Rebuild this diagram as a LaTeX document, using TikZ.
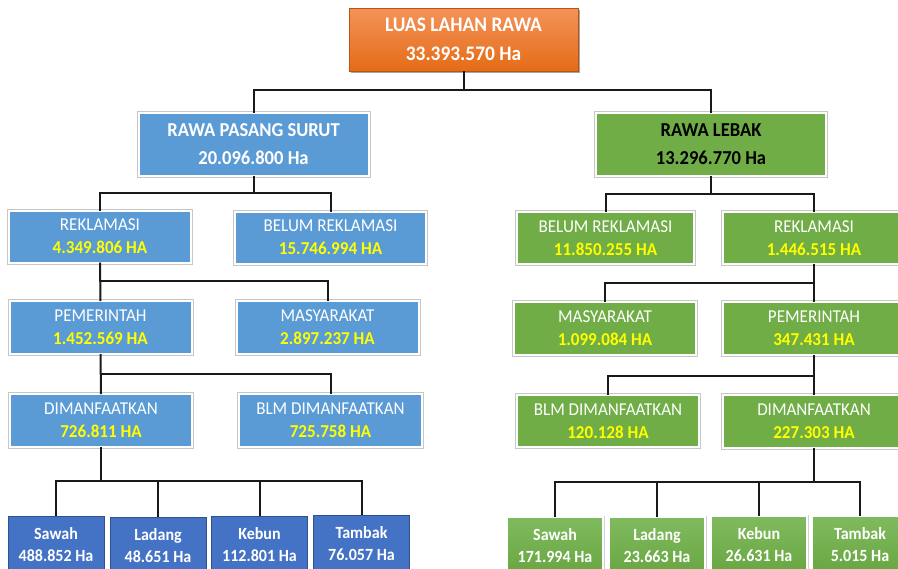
\documentclass[tikz,border=0pt]{standalone}
\usepackage{fontspec}
\setmainfont{Carlito}[FakeStretch=0.94]
\usetikzlibrary{shadows}
\newlength\pxu
\setlength\pxu{0.75pt}
\definecolor{orangetop}{HTML}{F4935A}
\definecolor{orangebot}{HTML}{E46C16}
\definecolor{bluefill}{HTML}{5B9BD5}
\definecolor{greenfill}{HTML}{70AD47}
\definecolor{greentop}{HTML}{80BA5E}
\definecolor{greenbot}{HTML}{68A641}
\definecolor{darkblue}{HTML}{4472C4}
\definecolor{darkblueline}{HTML}{2F528F}
\definecolor{amount}{HTML}{FFFF00}
\tikzset{
  x=\pxu, y=-\pxu,
  box/.style={rectangle, inner sep=0pt, outer sep=0pt, align=center},
  framed/.style={box, preaction={draw=black!22, line width=4\pxu}, draw=white, line width=2\pxu},
  headbox/.style={box, top color=orangetop, bottom color=orangebot, draw=orangebot!80!black, line width=0.6\pxu,
    drop shadow={shadow xshift=2\pxu, shadow yshift=-2\pxu, opacity=0.35, fill=black},
    minimum width=229\pxu, minimum height=63\pxu, text=white,
    font=\fontsize{15.5}{21.5}\selectfont\bfseries},
  mainbox/.style={framed, minimum width=230\pxu, minimum height=63\pxu,
    font=\fontsize{14.8}{21}\selectfont\bfseries},
  catbox/.style={framed, minimum width=182\pxu, minimum height=52\pxu,
    font=\fontsize{13.6}{17.25}\selectfont, text=white},
  leafblue/.style={box, fill=darkblue, draw=darkblueline, line width=1\pxu,
    minimum width=96\pxu, minimum height=58\pxu, text=white,
    font=\fontsize{12.8}{16.5}\selectfont\bfseries},
  leafgreen/.style={box, top color=greentop, bottom color=greenbot, preaction={draw=black!18, line width=3\pxu},
    draw=white, line width=1.5\pxu,
    minimum width=96\pxu, minimum height=58\pxu, text=white,
    font=\fontsize{12.8}{16.5}\selectfont\bfseries},
  link/.style={draw=black!90, line width=2\pxu},
}
\newcommand\amt[1]{\textcolor{amount}{\bfseries #1}}
\newcommand\cat[2]{\raisebox{-1.5\pxu}{#1}\\\raisebox{-1.5\pxu}{\amt{#2}}}
\begin{document}
\begin{tikzpicture}
\useasboundingbox (0,0) rectangle (898,568);
\clip (0,0) rectangle (898,568);

% root
\node[headbox] (root) at (463.5,39.5) {LUAS LAHAN RAWA\\33.393.570 Ha};

% second level
\node[mainbox, fill=bluefill, text=white] (rps) at (253.5,144) {RAWA PASANG SURUT\\20.096.800 Ha};
\node[mainbox, fill=greenfill, text=black] (rl) at (711,144) {RAWA LEBAK\\13.296.770 Ha};

% pasang surut branch
\node[catbox, fill=bluefill, minimum width=182\pxu] (lrek) at (100,236.5) {\cat{REKLAMASI}{4.349.806 HA}};
\node[catbox, fill=bluefill, minimum width=191\pxu] (lbrek) at (330.5,237.5) {\cat{BELUM REKLAMASI}{15.746.994 HA}};
\node[catbox, fill=bluefill, minimum height=53\pxu] (lpem) at (100.5,327.5) {\cat{PEMERINTAH}{1.452.569 HA}};
\node[catbox, fill=bluefill, minimum height=53\pxu] (lmas) at (327.5,327.5) {\cat{MASYARAKAT}{2.897.237 HA}};
\node[catbox, fill=bluefill, minimum height=53\pxu] (ldim) at (101,420.5) {\cat{DIMANFAATKAN}{726.811 HA}};
\node[catbox, fill=bluefill, minimum height=53\pxu, minimum width=183\pxu] (lblm) at (330.5,420.5) {\cat{BLM DIMANFAATKAN}{725.758 HA}};

% lebak branch
\node[catbox, fill=greenfill, minimum width=177\pxu] (rbrek) at (605.5,238) {\cat{BELUM REKLAMASI}{11.850.255 HA}};
\node[catbox, fill=greenfill] (rrek) at (814,238) {\cat{REKLAMASI}{1.446.515 HA}};
\node[catbox, fill=greenfill, minimum height=53\pxu] (rmas) at (605,328.5) {\cat{MASYARAKAT}{1.099.084 HA}};
\node[catbox, fill=greenfill, minimum height=53\pxu] (rpem) at (814,328.5) {\cat{PEMERINTAH}{347.431 HA}};
\node[catbox, fill=greenfill] (rblm) at (608,421) {\cat{BLM DIMANFAATKAN}{120.128 HA}};
\node[catbox, fill=greenfill, minimum height=53\pxu] (rdim) at (814,421.5) {\cat{DIMANFAATKAN}{227.303 HA}};

% land use leaves
\node[leafblue] (lsaw) at (56,545) {Sawah\\488.852 Ha};
\node[leafblue] (llad) at (158,546) {Ladang\\48.651 Ha};
\node[leafblue] (lkeb) at (259.5,545) {Kebun\\112.801 Ha};
\node[leafblue] (ltam) at (361.5,544) {Tambak\\76.057 Ha};
\node[leafgreen] (rsaw) at (555,546) {Sawah\\171.994 Ha};
\node[leafgreen] (rlad) at (657,546) {Ladang\\23.663 Ha};
\node[leafgreen] (rkeb) at (759,545) {Kebun\\26.631 Ha};
\node[leafgreen] (rtam) at (860,545) {Tambak\\5.015 Ha};

% junction points
\coordinate (j0) at (463.5,90);
\coordinate (j1) at (253.5,193);
\coordinate (j2) at (100,281);
\coordinate (j3) at (100.5,374);
\coordinate (j4) at (101,481);
\coordinate (k1) at (711,194);
\coordinate (k2) at (814,283);
\coordinate (k3) at (814,376);
\coordinate (k4) at (814,482);

% connectors
\draw[link] (root.south) -- (j0);
\draw[link] (rps.north) |- (j0) -| (rl.north);

\draw[link] (rps.south) -- (j1);
\draw[link] (lrek.north) |- (j1) -| (lbrek.north);
\draw[link] (lrek.south) -- (lpem.north);
\draw[link] (j2) -| (lmas.north);
\draw[link] (lpem.south) -- (ldim.north);
\draw[link] (j3) -| (lblm.north);
\draw[link] (ldim.south) -- (j4);
\draw[link] (lsaw.north) |- (j4) -| (ltam.north);
\draw[link] (llad.north) -- (llad.north |- j4);
\draw[link] (lkeb.north) -- (lkeb.north |- j4);

\draw[link] (rl.south) -- (k1);
\draw[link] (rbrek.north) |- (k1) -| (rrek.north);
\draw[link] (rrek.south) -- (rpem.north);
\draw[link] (k2) -| (rmas.north);
\draw[link] (rpem.south) -- (rdim.north);
\draw[link] (k3) -| (rblm.north);
\draw[link] (rdim.south) -- (k4);
\draw[link] (rsaw.north) |- (k4) -| (rtam.north);
\draw[link] (rlad.north) -- (rlad.north |- k4);
\draw[link] (rkeb.north) -- (rkeb.north |- k4);
\end{tikzpicture}
\end{document}
